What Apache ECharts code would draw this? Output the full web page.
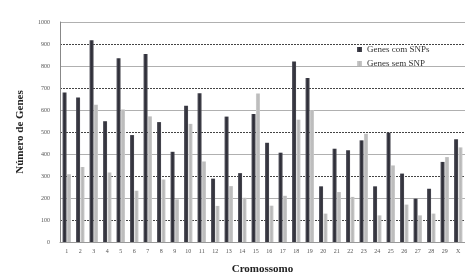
<!DOCTYPE html>
<html>
<head>
<meta charset="utf-8">
<script src="https://cdn.jsdelivr.net/npm/echarts@6/dist/echarts.min.js"></script>
<style>html,body{margin:0;padding:0;background:#fff}#c{width:465px;height:280px}</style>
</head>
<body>
<div id="c"></div>
<script>
var categories = ['1','2','3','4','5','6','7','8','9','10','11','12','13','14','15','16','17','18','19','20','21','22','23','24','25','26','27','28','29','X'];
var comSNPs = [680,657,917,549,835,486,854,545,410,619,676,288,570,313,582,451,406,820,745,253,424,417,462,253,497,311,197,242,364,467];
var semSNP  = [308,341,624,316,602,233,571,284,194,537,366,164,254,201,675,165,210,556,600,129,227,205,492,121,348,170,121,129,386,430];
var yTicks = [0,100,200,300,400,500,600,700,800,900,1000];

var serif = 'Liberation Serif';
var chart = echarts.init(document.getElementById('c'));
chart.setOption({
  animation: false,
  textStyle: {fontFamily: serif},
  grid: {left: 60, right: -6, top: 22, bottom: 36},
  legend: {
    orient: 'vertical', left: 352, top: 40, itemWidth: 5, itemHeight: 5, itemGap: 5,
    icon: 'rect',
    textStyle: {fontFamily: serif, fontSize: 9, color: '#333'},
    data: ['Genes com SNPs','Genes sem SNP']
  },
  xAxis: {
    type: 'category', data: categories,
    name: 'Cromossomo', nameLocation: 'middle', nameGap: 22,
    nameTextStyle: {fontFamily: serif, fontWeight: 'bold', fontSize: 11, color: '#222'},
    axisLine: {show: true, lineStyle: {color: '#999'}},
    axisTick: {show: false},
    axisLabel: {fontFamily: serif, fontSize: 6, color: '#555', margin: 6, interval: 0}
  },
  yAxis: [{
    type: 'value', min: 0, max: 1000, interval: 100,
    name: 'Número de Genes', nameLocation: 'middle', nameGap: 34, nameRotate: 90,
    nameTextStyle: {fontFamily: serif, fontWeight: 'bold', fontSize: 11, color: '#222'},
    axisLine: {show: true, lineStyle: {color: '#888'}},
    axisTick: {show: false},
    axisLabel: {fontFamily: serif, fontSize: 6, color: '#555', margin: 10,
      formatter: function(v){ return yTicks.indexOf(v) >= 0 ? String(v) : ''; }},
    splitLine: {show: false}
  }, {
    type: 'value', min: 0, max: 1000, interval: 200, position: 'left',
    axisLine: {show: false}, axisTick: {show: false}, axisLabel: {show: false},
    splitLine: {show: true, lineStyle: {color: '#b0b0b0', width: 1}},
    minorTick: {show: false, splitNumber: 2},
    minorSplitLine: {show: true, lineStyle: {color: '#444', type: [2,1], width: 1.2}}
  }],
  series: [{
    name: 'Genes com SNPs', type: 'bar', data: comSNPs, barWidth: 4, barGap: '10%',
    itemStyle: {color: new echarts.graphic.LinearGradient(0,0,1,0,[
      {offset:0,color:'#55555f'},{offset:0.5,color:'#2e2e38'},{offset:1,color:'#4a4a52'}])}
  }, {
    name: 'Genes sem SNP', type: 'bar', data: semSNP, barWidth: 4,
    itemStyle: {color: new echarts.graphic.LinearGradient(0,0,1,0,[
      {offset:0,color:'#cfcfcf'},{offset:0.5,color:'#b8b8b8'},{offset:1,color:'#cacaca'}])}
  }]
});
</script>
</body>
</html>
